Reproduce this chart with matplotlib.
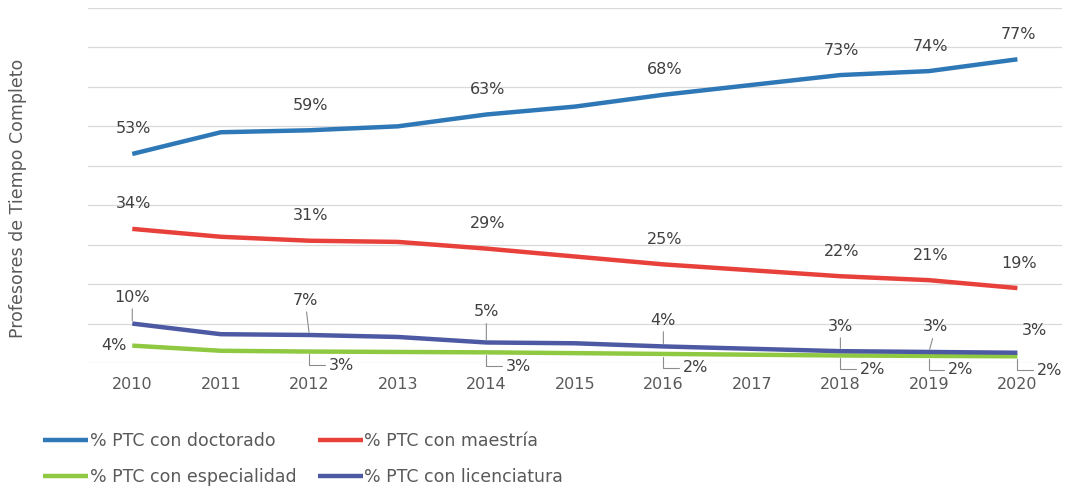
import matplotlib.pyplot as plt
import numpy as np

# datos
years = ["2010", "2011", "2012", "2013", "2014", "2015", "2016", "2017", "2018", "2019", "2020"]
doctorado = [53, 58.5, 59, 60, 63, 65, 68, 70.5, 73, 74, 77]
maestria = [34, 32, 31, 30.7, 29, 27, 25, 23.5, 22, 21, 19]
especialidad = [4.4, 3.1, 2.9, 2.8, 2.7, 2.5, 2.3, 2.1, 1.9, 1.8, 1.7]
licenciatura = [10, 7.3, 7.1, 6.6, 5.2, 5.0, 4.2, 3.6, 3.0, 2.8, 2.6]
# años con etiqueta
etiquetados = [0, 2, 4, 6, 8, 9, 10]

c_doc = "#2e78b7"
c_mae = "#e8413b"
c_esp = "#8fc841"
c_lic = "#4d5aa3"
c_txt = "#404040"
c_leader = "#8c8c8c"

fig = plt.figure(figsize=(10.67, 4.91), dpi=100)
ax = fig.add_axes([0.0825, 0.2607, 0.9125, 0.723])
x = np.arange(len(years))

l_doc, = ax.plot(x, doctorado, color=c_doc, lw=3.2, solid_capstyle="butt", label="% PTC con doctorado", zorder=3)
l_mae, = ax.plot(x, maestria, color=c_mae, lw=3.2, solid_capstyle="butt", label="% PTC con maestría", zorder=3)
l_esp, = ax.plot(x, especialidad, color=c_esp, lw=3.2, solid_capstyle="butt", label="% PTC con especialidad", zorder=3)
l_lic, = ax.plot(x, licenciatura, color=c_lic, lw=3.2, solid_capstyle="butt", label="% PTC con licenciatura", zorder=4)

ax.set_xlim(-0.5, len(years) - 0.5)
ax.set_ylim(0, 90)
ax.set_yticks(np.arange(0, 91, 10))
ax.set_yticklabels([])
ax.tick_params(axis="y", length=0)
ax.tick_params(axis="x", length=0, labelsize=11.5, labelcolor="#595959", pad=10)
ax.set_xticks(x)
ax.set_xticklabels(years)
ax.grid(axis="y", color="#d9d9d9", lw=0.9)
for s in ax.spines.values():
    s.set_visible(False)

fs = 11.5
# etiquetas doctorado y maestria (encima)
for serie in (doctorado, maestria):
    for i in etiquetados:
        ax.annotate(f"{round(serie[i])}%", (x[i], serie[i]), xytext=(1, 18),
                    textcoords="offset points", ha="center", va="center",
                    fontsize=fs, color=c_txt)

# licenciatura: encima con línea guía
lic_off = {0: (0, 19), 2: (-3, 25), 4: (0, 22), 6: (0, 19), 8: (0, 18), 9: (5, 18), 10: (12, 16)}
for i in etiquetados:
    dx, dy = lic_off[i]
    arrow = None
    if i != 10:
        arrow = dict(arrowstyle="-", color=c_leader, lw=0.8, shrinkA=1, shrinkB=2)
    ax.annotate(f"{round(licenciatura[i])}%", (x[i], licenciatura[i]), xytext=(dx, dy),
                textcoords="offset points", ha="center", va="center",
                fontsize=fs, color=c_txt, arrowprops=arrow, zorder=5)

# especialidad: debajo a la derecha con guía en L
for i in etiquetados:
    if i == 0:
        ax.annotate(f"{round(especialidad[i])}%", (x[i], especialidad[i]), xytext=(-4, 0),
                    textcoords="offset points", ha="right", va="center",
                    fontsize=fs, color=c_txt)
        continue
    ax.annotate(f"{round(especialidad[i])}%", (x[i], especialidad[i]), xytext=(14, -10),
                textcoords="offset points", ha="left", va="center",
                fontsize=fs, color=c_txt, zorder=5,
                arrowprops=dict(arrowstyle="-", color=c_leader, lw=0.8,
                                connectionstyle="angle,angleA=0,angleB=90,rad=0",
                                relpos=(0, 0.5), shrinkA=1, shrinkB=2))

fig.text(0.017, 0.595, "Profesores de Tiempo Completo", rotation=90, ha="center", va="center",
         fontsize=12.5, color="#595959")

# orden por filas: doctorado, maestria / especialidad, licenciatura
fig.legend([l_doc, l_esp, l_mae, l_lic],
           [l_doc.get_label(), l_esp.get_label(), l_mae.get_label(), l_lic.get_label()],
           loc="upper left", bbox_to_anchor=(0.034, 0.135), ncol=2, frameon=False,
           fontsize=12.5, handlelength=2.6, handletextpad=0.1, columnspacing=1.2,
           labelspacing=1.05, labelcolor="#595959", borderaxespad=0)

fig.savefig("out.png", dpi=100)
